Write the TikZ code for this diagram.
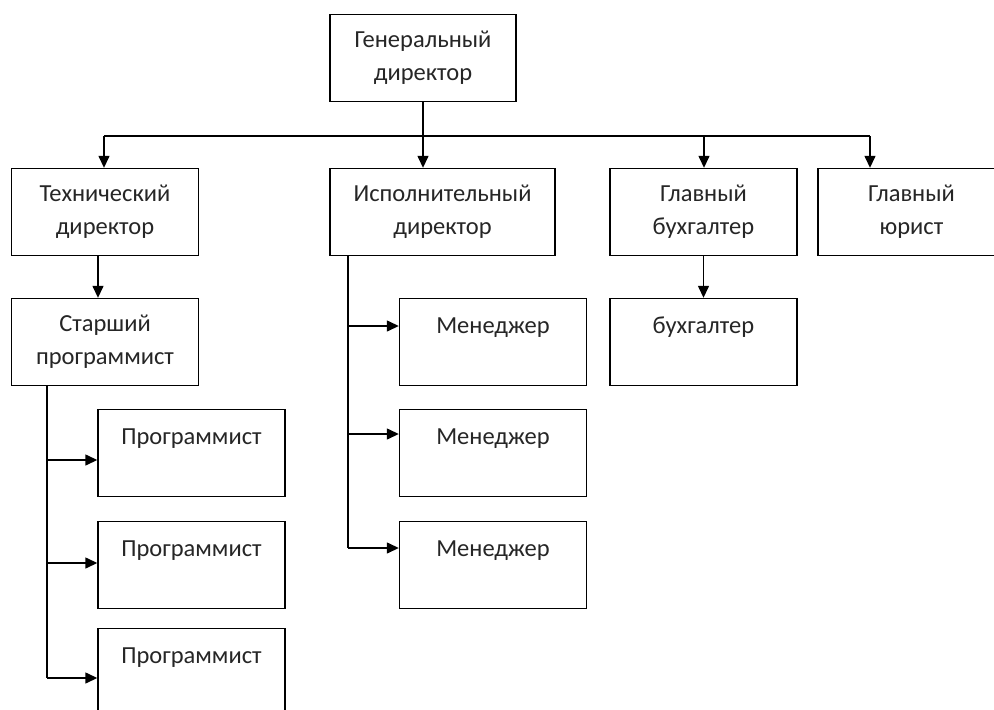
\documentclass[tikz,border=0pt]{standalone}
\usepackage{fontspec}
\setmainfont{Carlito}
\usetikzlibrary{arrows.meta}
\begin{document}
\begin{tikzpicture}[x=1pt,y=-1pt,
  box/.style={draw=black,line width=1.4pt,rectangle,minimum width=187pt,minimum height=87pt,
    align=center,inner sep=0pt,font=\fontsize{24.5}{33}\selectfont,text=black!85},
  conn/.style={line width=1.4pt,draw=black},
  arr/.style={conn,-{Triangle[length=12pt,width=11pt]}}]
\useasboundingbox (0,0) rectangle (994,710);
\clip (0,0) rectangle (994,710);
\fill[white] (0,0) rectangle (994,710);
% boxes (centres)
\node[box,minimum width=186pt] (gd) at (423,58) {Генеральный\\директор};
\node[box] (td) at (105,212) {Технический\\директор};
\node[box,minimum width=225pt] (id) at (442.5,212) {Исполнительный\\директор};
\node[box] (gb) at (703.5,212) {Главный\\бухгалтер};
\node[box] (gy) at (911.5,212) {Главный\\юрист};
\node[box] (sp) at (105,342) {Старший\\программист};
\node[box] (p1) at (191.5,453) {Программист\\~};
\node[box] (p2) at (191.5,565) {Программист\\~};
\node[box] (p3) at (191.5,672) {Программист\\~};
\node[box] (m1) at (493,342) {Менеджер\\~};
\node[box] (m2) at (493,453) {Менеджер\\~};
\node[box] (m3) at (493,565) {Менеджер\\~};
\node[box] (b) at (703.5,342) {бухгалтер\\~};
% bus
\coordinate (busL) at (104,136);
\coordinate (busR) at (870,136);
\coordinate (busB) at (704,136);
\draw[conn] (busL) -- (busR);
\draw[arr] (gd.south) -- (gd.south |- id.north);
\draw[arr] (busL) -- (busL |- td.north);
\draw[arr] (busB) -- (busB |- gb.north);
\draw[arr] (busR) -- (busR |- gy.north);
% technical branch
\coordinate (tdx) at (98,255);
\draw[arr] (tdx) -- (tdx |- sp.north);
\coordinate (spT) at (47,385);
\coordinate (spB) at (47,678);
\draw[conn] (spT) -- (47,460) -- (spB);
\draw[arr] (47,460) -- (p1.west |- 0,460);
\draw[arr] (47,563) -- (p2.west |- 0,563);
\draw[arr] (spB) -- (p3.west |- spB);
% executive branch
\coordinate (idT) at (348,255);
\coordinate (idB) at (348,548);
\draw[conn] (idT) -- (idB);
\draw[arr] (348,326) -- (m1.west |- 0,326);
\draw[arr] (348,434) -- (m2.west |- 0,434);
\draw[arr] (idB) -- (m3.west |- idB);
% accounting
\draw[arr] (gb.south) -- (b.north);
\end{tikzpicture}
\end{document}
